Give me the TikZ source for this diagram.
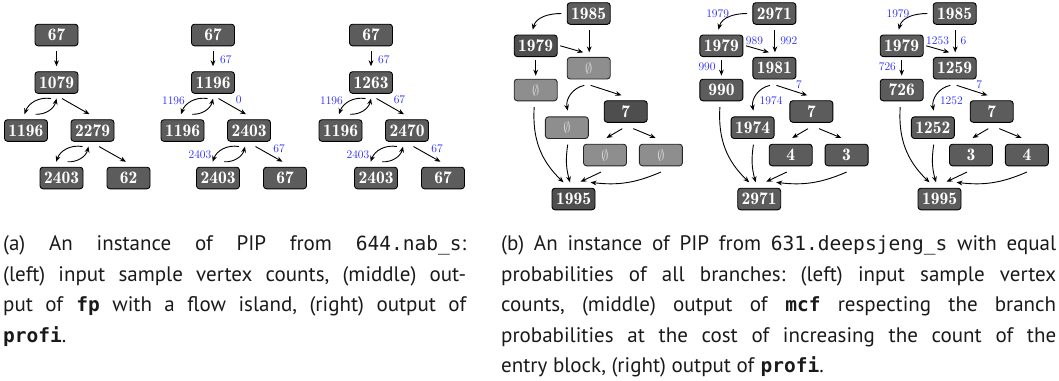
\documentclass[tikz,border=0pt]{standalone}
\usepackage{fontspec}
\setmonofont[Scale=0.93]{DejaVu Sans Mono}
\newfontfamily\captfont{PT Sans}
\usetikzlibrary{arrows.meta}
\setlength{\parindent}{0pt}
\frenchspacing
\definecolor{BlockFill}{HTML}{5C5C5C}
\definecolor{BlockDark}{HTML}{4E4E4E}
\definecolor{BlockNil}{HTML}{8E8E8E}
\definecolor{NilText}{HTML}{D6D6D6}
\definecolor{CountBlue}{HTML}{2424FF}
\definecolor{CaptInk}{HTML}{1A1A1A}
\tikzset{
  blk/.style={draw=black, line width=0.9pt, fill=BlockFill, rounded corners=3pt,
              minimum width=43pt, minimum height=21.6pt, inner sep=0pt, text=white,
              font=\fontsize{17.5}{17.5}\fontseries{b}\selectfont},
  blkdark/.style={blk, fill=BlockDark},
  blknil/.style={blk, draw=black!85, fill=BlockNil, text=NilText, font=\fontsize{14}{14}\selectfont},
  cfedge/.style={-{Stealth[length=6pt,width=4.8pt]}, line width=0.9pt},
  cnt/.style={text=CountBlue, inner sep=0pt, font=\fontsize{11.6}{12}\selectfont},
  capt/.style={anchor=north west, inner sep=0pt, align=justify, text=CaptInk,
               font=\captfont\fontsize{21}{30.6}\selectfont},
}

\begin{document}
\begin{tikzpicture}[x=1pt, y=1pt]
\useasboundingbox (0,0) rectangle (1059,-380);

% (a) left: input counts
\begin{scope}[shift={(56.5,-35)}]
\node[blk] (a1r) at (0,0) {67};
\node[blk] (a1m) at (0,-47.5) {1079};
\node[blk] (a1l) at (-30.5,-95.5) {1196};
\node[blk] (a1k) at (36,-95.5) {2279};
\node[blk] (a1kl) at (5,-143) {2403};
\node[blk] (a1kr) at (72,-143) {62};
\draw[cfedge] ([yshift=-4.8pt]a1r.south) -- ([yshift=5pt]a1m.north);
\draw[cfedge] ([xshift=-5.5pt,yshift=-4.8pt]a1m.south) to[bend right=40] ([xshift=-1.5pt,yshift=5pt]a1l.north);
\draw[cfedge] ([xshift=9.5pt,yshift=5pt]a1l.north) to[bend right=40] ([yshift=-4.8pt]a1m.south);
\draw[cfedge] ([xshift=5.5pt,yshift=-4.8pt]a1m.south) -- ([xshift=-3pt,yshift=5pt]a1k.north);
\draw[cfedge] ([xshift=-10pt,yshift=-4.8pt]a1k.south) to[bend right=40] ([xshift=-5.4pt,yshift=5pt]a1kl.north);
\draw[cfedge] ([xshift=6pt,yshift=5pt]a1kl.north) to[bend right=40] ([xshift=-4pt,yshift=-4.8pt]a1k.south);
\draw[cfedge] ([xshift=6.5pt,yshift=-4.8pt]a1k.south) -- ([xshift=-2.5pt,yshift=5pt]a1kr.north);
\end{scope}

% (a) middle: fp
\begin{scope}[shift={(213,-35)}]
\node[blk] (a2r) at (0,0) {67};
\node[blk] (a2m) at (0,-47.5) {1196};
\node[blk] (a2l) at (-30.5,-95.5) {1196};
\node[blk] (a2k) at (36,-95.5) {2403};
\node[blk] (a2kl) at (5,-143) {2403};
\node[blk] (a2kr) at (72,-143) {67};
\draw[cfedge] ([yshift=-4.8pt]a2r.south) -- ([yshift=5pt]a2m.north);
\draw[cfedge] ([xshift=-5.5pt,yshift=-4.8pt]a2m.south) to[bend right=40] ([xshift=-1.5pt,yshift=5pt]a2l.north);
\draw[cfedge] ([xshift=9.5pt,yshift=5pt]a2l.north) to[bend right=40] ([yshift=-4.8pt]a2m.south);
\draw[cfedge] ([xshift=5.5pt,yshift=-4.8pt]a2m.south) -- ([xshift=-3pt,yshift=5pt]a2k.north);
\draw[cfedge] ([xshift=-10pt,yshift=-4.8pt]a2k.south) to[bend right=40] ([xshift=-5.4pt,yshift=5pt]a2kl.north);
\draw[cfedge] ([xshift=6pt,yshift=5pt]a2kl.north) to[bend right=40] ([xshift=-4pt,yshift=-4.8pt]a2k.south);
\draw[cfedge] ([xshift=6.5pt,yshift=-4.8pt]a2k.south) -- ([xshift=-2.5pt,yshift=5pt]a2kr.north);
\node[cnt, anchor=west] (a2c1) at (7,-24.3) {67};
\node[cnt, anchor=east] (a2c2) at (-28,-66) {1196};
\node[cnt, anchor=west] (a2c3) at (22.6,-65) {0};
\node[cnt, anchor=east] (a2c4) at (-1.5,-120) {2403};
\node[cnt, anchor=west] (a2c5) at (60.2,-114) {67};
\end{scope}

% (a) right: profi
\begin{scope}[shift={(371,-35)}]
\node[blk] (a3r) at (0,0) {67};
\node[blk] (a3m) at (0,-47.5) {1263};
\node[blk] (a3l) at (-30.5,-95.5) {1196};
\node[blk] (a3k) at (36,-95.5) {2470};
\node[blk] (a3kl) at (5,-143) {2403};
\node[blk] (a3kr) at (72,-143) {67};
\draw[cfedge] ([yshift=-4.8pt]a3r.south) -- ([yshift=5pt]a3m.north);
\draw[cfedge] ([xshift=-5.5pt,yshift=-4.8pt]a3m.south) to[bend right=40] ([xshift=-1.5pt,yshift=5pt]a3l.north);
\draw[cfedge] ([xshift=9.5pt,yshift=5pt]a3l.north) to[bend right=40] ([yshift=-4.8pt]a3m.south);
\draw[cfedge] ([xshift=5.5pt,yshift=-4.8pt]a3m.south) -- ([xshift=-3pt,yshift=5pt]a3k.north);
\draw[cfedge] ([xshift=-10pt,yshift=-4.8pt]a3k.south) to[bend right=40] ([xshift=-5.4pt,yshift=5pt]a3kl.north);
\draw[cfedge] ([xshift=6pt,yshift=5pt]a3kl.north) to[bend right=40] ([xshift=-4pt,yshift=-4.8pt]a3k.south);
\draw[cfedge] ([xshift=6.5pt,yshift=-4.8pt]a3k.south) -- ([xshift=-2.5pt,yshift=5pt]a3kr.north);
\node[cnt, anchor=west] (a3c1) at (7,-24.3) {67};
\node[cnt, anchor=east] (a3c2) at (-28,-66) {1196};
\node[cnt, anchor=west] (a3c3) at (22.6,-65) {67};
\node[cnt, anchor=east] (a3c4) at (-1.5,-120) {2403};
\node[cnt, anchor=west] (a3c5) at (60.2,-114) {67};
\end{scope}

% (b) left: input counts
\begin{scope}[shift={(588.7,-13.5)}]
\node[blk] (b1r) at (0,0) {1985};
\node[blkdark] (b1p) at (-53,-32.3) {1979};
\node[blknil] (b1q) at (0,-54.7) {$\emptyset$};
\node[blknil] (b1s) at (-53,-76.5) {$\emptyset$};
\node[blkdark] (b1t) at (37,-98) {7};
\node[blknil] (b1u) at (-21.8,-114.2) {$\emptyset$};
\node[blknil] (b1v) at (16.3,-141.5) {$\emptyset$};
\node[blknil] (b1w) at (72.2,-141.5) {$\emptyset$};
\node[blkdark] (b1z) at (-15.2,-185.5) {1995};
\draw[cfedge] ([xshift=-5.3pt]b1r.west) to[out=180,in=75] ([xshift=-3pt,yshift=4.9pt]b1p.north);
\draw[cfedge] ([xshift=0.5pt,yshift=-5.6pt]b1r.south) -- ([xshift=0.5pt,yshift=4.6pt]b1q.north);
\draw[cfedge] ([xshift=2.6pt]b1p.east) -- ([xshift=-5.5pt,yshift=4.6pt]b1q.north);
\draw[cfedge] ([yshift=-2.6pt]b1p.south) -- ([yshift=3.1pt]b1s.north);
\draw[cfedge] ([xshift=-4.4pt,yshift=-5.9pt]b1q.south) to[bend right=45] ([xshift=0.8pt,yshift=5.8pt]b1u.north);
\draw[cfedge] ([xshift=2pt,yshift=-5.9pt]b1q.south) -- ([xshift=-4.2pt,yshift=4.9pt]b1t.north);
\draw[cfedge] ([xshift=-3.4pt,yshift=-5.9pt]b1t.south) -- ([xshift=1.5pt,yshift=5.8pt]b1v.north);
\draw[cfedge] ([xshift=7.6pt,yshift=-5.9pt]b1t.south) -- ([xshift=-5.2pt,yshift=5.8pt]b1w.north);
\draw[cfedge] ([xshift=-1.5pt,yshift=-5.8pt]b1s.south) to[bend right=25] ([xshift=-10pt,yshift=5.4pt]b1z.north);
\draw[cfedge] ([xshift=0.8pt,yshift=-5.7pt]b1u.south) to[bend right=12] ([xshift=-3.5pt,yshift=5.4pt]b1z.north);
\draw[cfedge] ([xshift=-4pt,yshift=-5.8pt]b1v.south) -- ([xshift=7pt,yshift=6pt]b1z.north);
\draw[cfedge] ([yshift=-5.8pt]b1w.south) to[bend left=15] ([xshift=17pt,yshift=5.4pt]b1z.north);
\end{scope}

% (b) middle: mcf
\begin{scope}[shift={(774.4,-13.5)}]
\node[blk] (b2r) at (0,0) {2971};
\node[blk] (b2p) at (-53,-32.3) {1979};
\node[blk] (b2q) at (0,-54.7) {1981};
\node[blk] (b2s) at (-53,-76.5) {990};
\node[blk] (b2t) at (37,-98) {7};
\node[blk] (b2u) at (-21.8,-114.2) {1974};
\node[blk] (b2v) at (16.3,-141.5) {4};
\node[blk] (b2w) at (72.2,-141.5) {3};
\node[blk] (b2z) at (-15.2,-185.5) {2971};
\draw[cfedge] ([xshift=-5.3pt]b2r.west) to[out=180,in=75] ([xshift=-3pt,yshift=4.9pt]b2p.north);
\draw[cfedge] ([xshift=0.5pt,yshift=-5.6pt]b2r.south) -- ([xshift=0.5pt,yshift=4.6pt]b2q.north);
\draw[cfedge] ([xshift=2.6pt]b2p.east) -- ([xshift=-5.5pt,yshift=4.6pt]b2q.north);
\draw[cfedge] ([yshift=-2.6pt]b2p.south) -- ([yshift=3.1pt]b2s.north);
\draw[cfedge] ([xshift=-4.4pt,yshift=-5.9pt]b2q.south) to[bend right=45] ([xshift=0.8pt,yshift=5.8pt]b2u.north);
\draw[cfedge] ([xshift=2pt,yshift=-5.9pt]b2q.south) -- ([xshift=-4.2pt,yshift=4.9pt]b2t.north);
\draw[cfedge] ([xshift=-3.4pt,yshift=-5.9pt]b2t.south) -- ([xshift=1.5pt,yshift=5.8pt]b2v.north);
\draw[cfedge] ([xshift=7.6pt,yshift=-5.9pt]b2t.south) -- ([xshift=-5.2pt,yshift=5.8pt]b2w.north);
\draw[cfedge] ([xshift=-1.5pt,yshift=-5.8pt]b2s.south) to[bend right=25] ([xshift=-10pt,yshift=5.4pt]b2z.north);
\draw[cfedge] ([xshift=0.8pt,yshift=-5.7pt]b2u.south) to[bend right=12] ([xshift=-3.5pt,yshift=5.4pt]b2z.north);
\draw[cfedge] ([xshift=-4pt,yshift=-5.8pt]b2v.south) -- ([xshift=7pt,yshift=6pt]b2z.north);
\draw[cfedge] ([yshift=-5.8pt]b2w.south) to[bend left=15] ([xshift=17pt,yshift=5.4pt]b2z.north);
\node[cnt, anchor=east] (b2c1) at (-45.2,-0.5) {1979};
\node[cnt, anchor=west] (b2c2) at (-28.7,-27.2) {989};
\node[cnt, anchor=west] (b2c3) at (5.7,-27.2) {992};
\node[cnt, anchor=east] (b2c4) at (-58.6,-53.2) {990};
\node[cnt] (b2c5) at (24.5,-71.5) {7};
\node[cnt, anchor=west] (b2c6) at (-14.9,-87.5) {1974};
\end{scope}

% (b) right: profi
\begin{scope}[shift={(954.7,-13.5)}]
\node[blk] (b3r) at (0,0) {1985};
\node[blk] (b3p) at (-53,-32.3) {1979};
\node[blk] (b3q) at (0,-54.7) {1259};
\node[blk] (b3s) at (-53,-76.5) {726};
\node[blk] (b3t) at (37,-98) {7};
\node[blk] (b3u) at (-21.8,-114.2) {1252};
\node[blk] (b3v) at (16.3,-141.5) {3};
\node[blk] (b3w) at (72.2,-141.5) {4};
\node[blk] (b3z) at (-15.2,-185.5) {1995};
\draw[cfedge] ([xshift=-5.3pt]b3r.west) to[out=180,in=75] ([xshift=-3pt,yshift=4.9pt]b3p.north);
\draw[cfedge] ([xshift=0.5pt,yshift=-5.6pt]b3r.south) -- ([xshift=0.5pt,yshift=4.6pt]b3q.north);
\draw[cfedge] ([xshift=2.6pt]b3p.east) -- ([xshift=-5.5pt,yshift=4.6pt]b3q.north);
\draw[cfedge] ([yshift=-2.6pt]b3p.south) -- ([yshift=3.1pt]b3s.north);
\draw[cfedge] ([xshift=-4.4pt,yshift=-5.9pt]b3q.south) to[bend right=45] ([xshift=0.8pt,yshift=5.8pt]b3u.north);
\draw[cfedge] ([xshift=2pt,yshift=-5.9pt]b3q.south) -- ([xshift=-4.2pt,yshift=4.9pt]b3t.north);
\draw[cfedge] ([xshift=-3.4pt,yshift=-5.9pt]b3t.south) -- ([xshift=1.5pt,yshift=5.8pt]b3v.north);
\draw[cfedge] ([xshift=7.6pt,yshift=-5.9pt]b3t.south) -- ([xshift=-5.2pt,yshift=5.8pt]b3w.north);
\draw[cfedge] ([xshift=-1.5pt,yshift=-5.8pt]b3s.south) to[bend right=25] ([xshift=-10pt,yshift=5.4pt]b3z.north);
\draw[cfedge] ([xshift=0.8pt,yshift=-5.7pt]b3u.south) to[bend right=12] ([xshift=-3.5pt,yshift=5.4pt]b3z.north);
\draw[cfedge] ([xshift=-4pt,yshift=-5.8pt]b3v.south) -- ([xshift=7pt,yshift=6pt]b3z.north);
\draw[cfedge] ([yshift=-5.8pt]b3w.south) to[bend left=15] ([xshift=17pt,yshift=5.4pt]b3z.north);
\node[cnt, anchor=east] (b3c1) at (-45.2,-0.5) {1979};
\node[cnt, anchor=west] (b3c2) at (-28.7,-27.2) {1253};
\node[cnt, anchor=west] (b3c3) at (5.7,-27.2) {6};
\node[cnt, anchor=east] (b3c4) at (-58.6,-53.2) {726};
\node[cnt] (b3c5) at (24.5,-71.5) {7};
\node[cnt, anchor=west] (b3c6) at (-14.9,-87.5) {1252};
\end{scope}

% captions
\node[capt, text width=463pt] (capa) at (3,-235.3) {%
\makebox[463pt][s]{(a) An instance of PIP from \texttt{644.nab\_s}:}\\
\makebox[463pt][s]{(left) input sample vertex counts, (middle) out-}\\
\makebox[463pt][s]{put of \textbf{\texttt{fp}} with a flow island, (right) output of}\\
\textbf{\texttt{profi}}.};
\node[capt, text width=555pt] (capb) at (501,-235.3) {%
\makebox[555pt][s]{(b) An instance of PIP from \texttt{631.deepsjeng\_s} with equal}\\
\makebox[555pt][s]{probabilities of all branches: (left) input sample vertex}\\
\makebox[555pt][s]{counts, (middle) output of \textbf{\texttt{mcf}} respecting the branch}\\
\makebox[555pt][s]{probabilities at the cost of increasing the count of the}\\
entry block, (right) output of \textbf{\texttt{profi}}.};
\end{tikzpicture}
\end{document}
